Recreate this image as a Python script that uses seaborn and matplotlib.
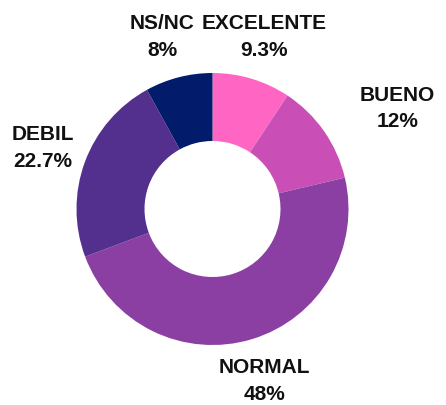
import matplotlib
matplotlib.use("Agg")
import matplotlib.pyplot as plt
import seaborn as sns

# Survey results (percent)
categories = ["EXCELENTE", "BUENO", "NORMAL", "DEBIL", "NS/NC"]
values = [9.3, 12, 48, 22.7, 8]
value_labels = ["9.3%", "12%", "48%", "22.7%", "8%"]

sns.set_theme(style="white")
plt.rcParams["font.family"] = ["Liberation Sans", "DejaVu Sans"]

colors = sns.color_palette(["#FF66C4", "#C94FB6", "#8B3FA2", "#54308E", "#021C6B"])

fig = plt.figure(figsize=(4.46, 4.05), dpi=100)
ax = fig.add_axes([0, 0, 1, 1])

ax.pie(
    values,
    colors=colors,
    startangle=90,
    counterclock=False,
    radius=1,
    wedgeprops=dict(width=0.5, linewidth=0),
)

# label anchor points (data units, radius = 1)
label_pos = [(0.38, 1.265), (1.36, 0.74), (0.385, -1.265), (-1.245, 0.45), (-0.37, 1.265)]
for cat, lab, (x, y) in zip(categories, value_labels, label_pos):
    ax.text(x, y, f"{cat}\n{lab}", ha="center", va="center",
            fontsize=15, fontweight="bold", color="#111111", linespacing=1.5)

ax.set_xlim(-212.5 / 136, (446 - 212.5) / 136)
ax.set_ylim(-(405 - 209) / 136, 209 / 136)
ax.set_aspect("auto")
ax.axis("off")

fig.savefig("out.png", dpi=100)
